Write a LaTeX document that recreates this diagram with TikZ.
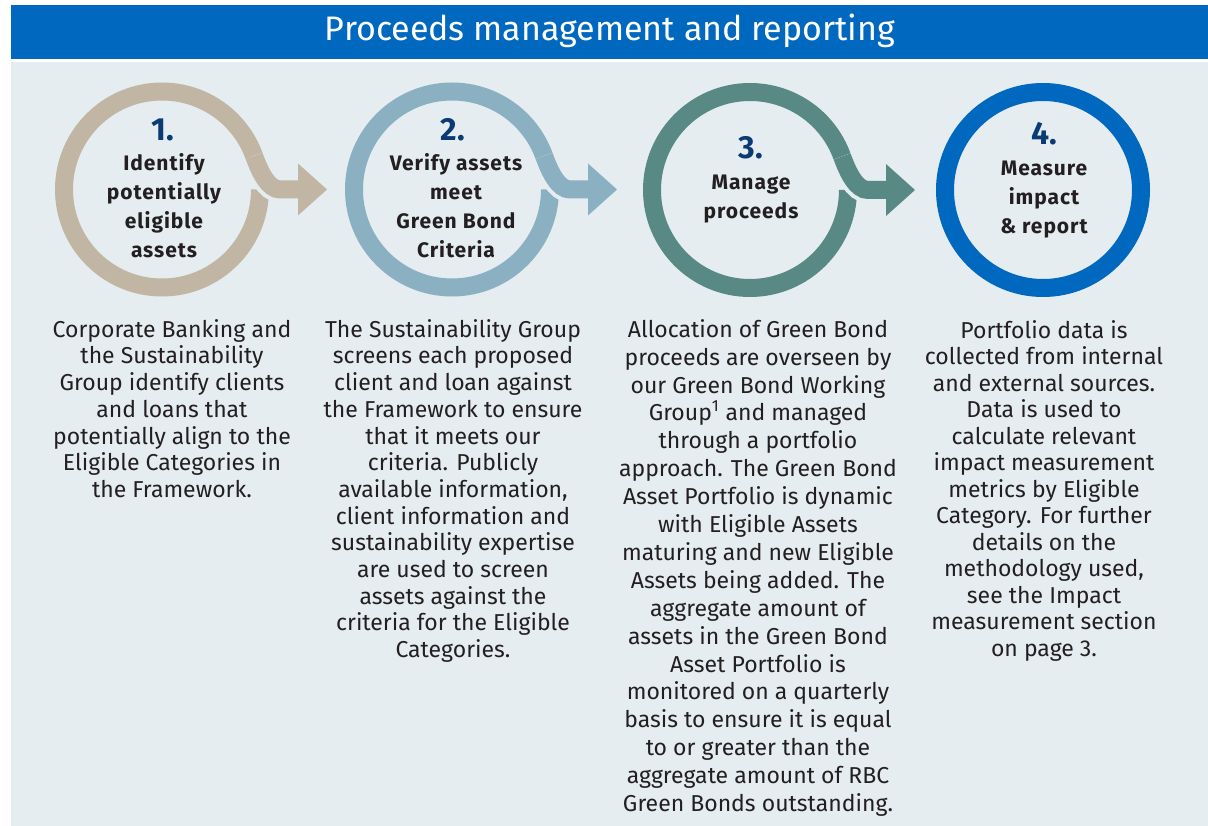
\documentclass[tikz,border=0pt]{standalone}
\usepackage{fontspec}
\setmainfont{Fira Sans}
\newfontfamily\ttlfont{Fira Sans}[LetterSpace=4.5]
\usepackage{graphicx}
\usetikzlibrary{calc}
\definecolor{hdrblue}{HTML}{0068BF}
\definecolor{panelbg}{HTML}{E5EDF1}
\definecolor{ctan}{HTML}{C1B5A4}
\definecolor{clblue}{HTML}{8AB0C2}
\definecolor{cteal}{HTML}{588984}
\definecolor{cnavy}{HTML}{0B3B74}
\definecolor{ctxt}{HTML}{231F20}
\tikzset{
  body/.style={font=\fontsize{23}{26.7}\selectfont, text=ctxt, align=center, anchor=north, inner sep=0pt},
  ttl/.style={font=\ttlfont\bfseries\fontsize{21}{29}\selectfont, text=ctxt, align=center, anchor=north, inner sep=0pt},
  num/.style={font=\bfseries\fontsize{32}{36}\selectfont, text=cnavy, anchor=base, inner sep=0pt},
  hdr/.style={font=\fontsize{34}{40}\selectfont, text=white, inner sep=0pt}
}
\newcommand\ringarrow[4]{%
  \coordinate (#1) at (#2,#3);
  \draw[line width=18pt,#4] ($(#1)+(0:98)$) arc[start angle=0,end angle=340,radius=98];
  \draw[line width=26pt,panelbg] ($(#1)+(340:98)$) .. controls ($(#1)+(340:98)+(70:16)$) and ($(#1)+(106,0)$) .. ($(#1)+(118,0)$) -- ($(#1)+(137,0)$);
  \draw[line width=18pt,#4] ($(#1)+(340:98)$) .. controls ($(#1)+(340:98)+(70:16)$) and ($(#1)+(106,0)$) .. ($(#1)+(118,0)$) -- ($(#1)+(137,0)$);
  \fill[#4] ($(#1)+(136,-26)$) -- ($(#1)+(165,0)$) -- ($(#1)+(136,26)$) -- cycle;
}
\begin{document}
\begin{tikzpicture}[x=1pt,y=-1pt]
\useasboundingbox (0,0) rectangle (1208,826);
\fill[white] (0,0) rectangle (1208,826);
\fill[hdrblue] (11,5) rectangle (1208,59);
\fill[panelbg] (11,62) rectangle (1208,826);
\node[hdr] (title) at (610,31) {\resizebox{570pt}{\height}{Proceeds management and reporting}};

\ringarrow{c1}{162}{189.5}{ctan}
\ringarrow{c2}{452}{189.5}{clblue}
\ringarrow{c3}{750}{190}{cteal}
\draw[line width=18pt,hdrblue] (1043,190) circle[radius=98];
\coordinate (c4) at (1043,190);

\node[num] (n1) at (163,141) {1.};
\node[num] (n2) at (453,141) {2.};
\node[num] (n3) at (751,159) {3.};
\node[num] (n4) at (1044,145) {4.};

\node[ttl] (t1) at (164,153) {\rule{0pt}{17pt}Identify\\potentially\\eligible\\assets};
\node[ttl] (t2) at (456,153) {\rule{0pt}{17pt}Verify assets\\meet\\Green Bond\\Criteria};
\node[ttl] (t3) at (751,172) {\rule{0pt}{17pt}Manage\\proceeds};
\node[ttl] (t4) at (1044,158) {\rule{0pt}{17pt}Measure\\impact\\\&~report};

\node[body] (b1) at (172,318) {\rule{0pt}{19pt}Corporate Banking and\\the Sustainability\\Group identify clients\\and loans that\\potentially align to the\\Eligible Categories in\\the Framework.};
\node[body] (b2) at (453,318) {\rule{0pt}{19pt}The Sustainability Group\\screens each proposed\\client and loan against\\the Framework to ensure\\that it meets our\\criteria. Publicly\\available information,\\client information and\\sustainability expertise\\are used to screen\\assets against the\\criteria for the Eligible\\Categories.};
\node[body, font=\fontsize{23}{27.9}\selectfont] (b3) at (758,318) {\rule{0pt}{19pt}Allocation of Green Bond\\proceeds are overseen by\\our Green Bond Working\\Group\textsuperscript{1} and managed\\through a portfolio\\approach. The Green Bond\\Asset Portfolio is dynamic\\with Eligible Assets\\maturing and new Eligible\\Assets being added. The\\aggregate amount of\\assets in the Green Bond\\Asset Portfolio is\\monitored on a quarterly\\basis to ensure it is equal\\to or greater than the\\aggregate amount of RBC\\Green Bonds outstanding.};
\node[body, font=\fontsize{23}{26.5}\selectfont] (b4) at (1044,319) {\rule{0pt}{19pt}Portfolio data is\\collected from internal\\and external sources.\\Data is used to\\calculate relevant\\impact measurement\\metrics by Eligible\\Category. For further\\details on the\\methodology used,\\see the Impact\\measurement section\\on page 3.};
\end{tikzpicture}
\end{document}
